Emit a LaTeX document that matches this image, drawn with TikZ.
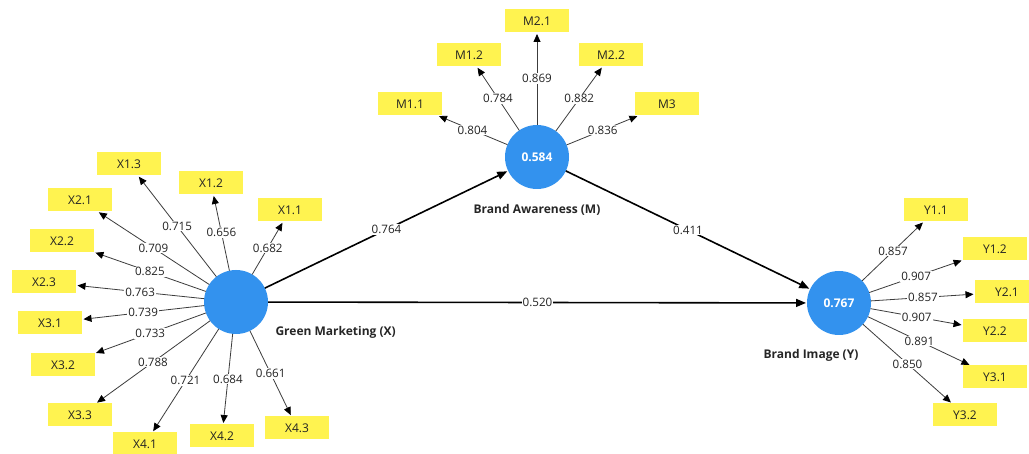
\documentclass[tikz,border=0pt]{standalone}
\usepackage{fontspec}
\setmainfont{Open Sans}
\usetikzlibrary{arrows.meta}
\definecolor{lvblue}{RGB}{51,146,238}
\definecolor{mvyellow}{RGB}{255,243,80}
\definecolor{linegray}{RGB}{60,60,60}
\definecolor{txtgray}{RGB}{35,35,35}

\begin{document}
\begin{tikzpicture}[x=1pt,y=-1pt,
  latent/.style={circle,fill=lvblue,minimum size=64pt,inner sep=0pt,outer sep=0pt,
    text=white,font=\bfseries\fontsize{12}{14}\selectfont},
  indicator/.style={rectangle,fill=mvyellow,minimum width=64pt,minimum height=23pt,
    inner sep=0pt,outer sep=0pt,text=txtgray,font=\fontsize{12}{14}\selectfont},
  loading/.style={draw=linegray,line width=0.8pt,
    -{Triangle[length=8pt,width=7pt,black]},shorten >=1.5pt},
  structural/.style={draw=black,line width=1.6pt,
    -{Triangle[length=10pt,width=8pt]},shorten >=1pt},
  wt/.style={pos=0.5,fill=white,inner sep=1pt,text=txtgray,
    font=\fontsize{11.6}{13}\selectfont},
  lvname/.style={text=black!85,font=\bfseries\fontsize{12}{14}\selectfont}
]
\fill[white] (0,0) rectangle (1029,454);
\useasboundingbox (0,0) rectangle (1029,454);

% latent variables
\node[latent] (X) at (236,302) {};
\node[latent] (M) at (537,157) {0.584};
\node[latent] (Y) at (839,303) {0.767};

\node[lvname,anchor=west] (Xname) at (272,332) {Green Marketing (X)};
\node[lvname] (Mname) at (537,210) {Brand Awareness (M)};
\node[lvname] (Yname) at (811,355) {Brand Image (Y)};

% indicators of Green Marketing
\node[indicator] (x13) at (129,164) {X1.3};
\node[indicator] (x12) at (211,183) {X1.2};
\node[indicator] (x11) at (290,210) {X1.1};
\node[indicator] (x21) at (80,200) {X2.1};
\node[indicator] (x22) at (62,241) {X2.2};
\node[indicator] (x23) at (44,282) {X2.3};
\node[indicator] (x31) at (50,323) {X3.1};
\node[indicator] (x32) at (63,365) {X3.2};
\node[indicator] (x33) at (80,415) {X3.3};
\node[indicator] (x41) at (145,444) {X4.1};
\node[indicator] (x42) at (222,436) {X4.2};
\node[indicator] (x43) at (297,428) {X4.3};

% indicators of Brand Awareness
\node[indicator] (m21) at (537,21) {M2.1};
\node[indicator] (m12) at (469,55) {M1.2};
\node[indicator] (m22) at (611,55) {M2.2};
\node[indicator] (m11) at (410,104) {M1.1};
\node[indicator] (m3) at (667,104) {M3};

% indicators of Brand Image
\node[indicator] (y11) at (936,210) {Y1.1};
\node[indicator] (y12) at (995,249) {Y1.2};
\node[indicator] (y21) at (1007,292) {Y2.1};
\node[indicator] (y22) at (995,331) {Y2.2};
\node[indicator] (y31) at (995,377) {Y3.1};
\node[indicator] (y32) at (965,415) {Y3.2};

% outer loadings
\draw[loading] (X) -- node[wt]{0.715} (x13);
\draw[loading] (X) -- node[wt]{0.656} (x12);
\draw[loading] (X) -- node[wt]{0.682} (x11);
\draw[loading] (X) -- node[wt]{0.709} (x21);
\draw[loading] (X) -- node[wt]{0.825} (x22);
\draw[loading] (X) -- node[wt]{0.763} (x23);
\draw[loading] (X) -- node[wt]{0.739} (x31);
\draw[loading] (X) -- node[wt]{0.733} (x32);
\draw[loading] (X) -- node[wt]{0.788} (x33);
\draw[loading] (X) -- node[wt]{0.721} (x41);
\draw[loading] (X) -- node[wt]{0.684} (x42);
\draw[loading] (X) -- node[wt]{0.661} (x43);

\draw[loading] (M) -- node[wt]{0.804} (m11);
\draw[loading] (M) -- node[wt]{0.784} (m12);
\draw[loading] (M) -- node[wt]{0.869} (m21);
\draw[loading] (M) -- node[wt]{0.882} (m22);
\draw[loading] (M) -- node[wt]{0.836} (m3);

\draw[loading] (Y) -- node[wt]{0.857} (y11);
\draw[loading] (Y) -- node[wt]{0.907} (y12);
\draw[loading] (Y) -- node[wt]{0.857} (y21);
\draw[loading] (Y) -- node[wt]{0.907} (y22);
\draw[loading] (Y) -- node[wt]{0.891} (y31);
\draw[loading] (Y) -- node[wt]{0.850} (y32);

% path coefficients
\draw[structural] (X) -- node[wt]{0.764} (M);
\draw[structural] (M) -- node[wt]{0.411} (Y);
\draw[structural] (X) -- node[wt]{0.520} (Y);
\end{tikzpicture}
\end{document}
